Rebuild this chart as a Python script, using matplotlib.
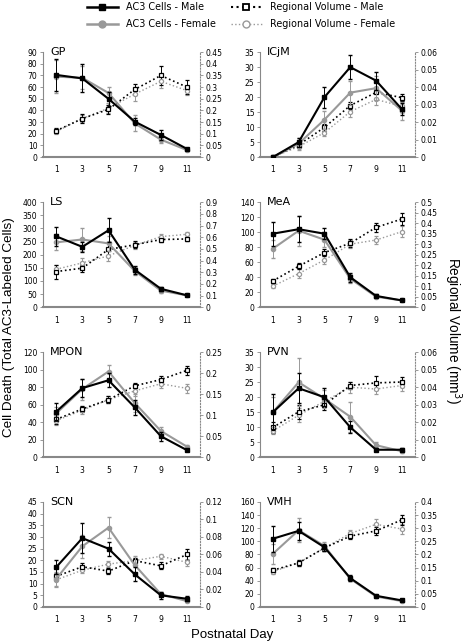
import matplotlib
matplotlib.use("Agg")
import matplotlib.pyplot as plt
from matplotlib.lines import Line2D

DPI = 100

days = [1, 3, 5, 7, 9, 11]
regions = ["GP", "ICjM", "LS", "MeA", "MPON", "PVN", "SCN", "VMH"]

# AC3 cells (left axis): male / female means and errors
cells_m = {
    "GP": [70.5, 67.5, 50, 30.5, 19, 7],
    "ICjM": [0, 5, 20, 30, 25.5, 16],
    "LS": [270, 230, 293, 143, 70, 45],
    "MeA": [98, 104, 98, 40, 15, 9],
    "MPON": [52, 79, 88, 57, 24, 8],
    "PVN": [15, 23, 20, 10, 2.5, 2.5],
    "SCN": [17, 29.5, 25, 14, 5, 3.5],
    "VMH": [104, 116, 91, 44, 17, 10],
}
cells_m_err = {
    "GP": [14, 12, 6, 3, 4, 1],
    "ICjM": [0, 1.5, 3.5, 4, 3, 2],
    "LS": [35, 20, 45, 15, 8, 3],
    "MeA": [16, 17, 7, 6, 2, 1],
    "MPON": [10, 10, 8, 9, 5, 1],
    "PVN": [6, 5, 3, 2, 0.5, 0.5],
    "SCN": [3, 6.5, 3, 3, 1.5, 1],
    "VMH": [20, 14, 5, 4, 2, 1],
}
cells_f = {
    "GP": [69, 68, 55, 29, 15, 6],
    "ICjM": [0, 4.5, 12.5, 21.5, 23, 15.5],
    "LS": [247, 258, 243, 138, 63, 45],
    "MeA": [78, 102, 90, 38, 14, 9],
    "MPON": [50, 78, 98, 62, 30, 12],
    "PVN": [15, 25, 19.5, 13.5, 4, 2],
    "SCN": [12, 26, 34, 18, 5.5, 2.5],
    "VMH": [81, 117, 93, 43, 16, 9],
}
cells_f_err = {
    "GP": [14, 10, 5, 7, 3, 1],
    "ICjM": [0, 2, 3, 4, 4, 3],
    "LS": [30, 45, 30, 15, 8, 3],
    "MeA": [12, 20, 10, 6, 2, 1],
    "MPON": [8, 12, 8, 10, 4, 2],
    "PVN": [5, 8, 3, 5, 1, 0.5],
    "SCN": [3, 5, 4.5, 4, 1, 0.5],
    "VMH": [15, 18, 6, 4, 2, 1],
}

# Regional volume (right axis, mm3)
vol_m = {
    "GP": [0.113, 0.165, 0.205, 0.29, 0.35, 0.30],
    "ICjM": [0, 0.007, 0.017, 0.0295, 0.037, 0.034],
    "LS": [0.305, 0.335, 0.495, 0.535, 0.58, 0.585],
    "MeA": [0.125, 0.195, 0.26, 0.305, 0.38, 0.42],
    "MPON": [0.09, 0.115, 0.137, 0.17, 0.185, 0.207],
    "PVN": [0.017, 0.026, 0.030, 0.041, 0.0425, 0.043],
    "SCN": [0.035, 0.046, 0.041, 0.053, 0.047, 0.06],
    "VMH": [0.14, 0.168, 0.225, 0.27, 0.29, 0.332],
}
vol_m_err = {
    "GP": [0.01, 0.02, 0.02, 0.025, 0.04, 0.03],
    "ICjM": [0, 0.001, 0.002, 0.002, 0.003, 0.002],
    "LS": [0.06, 0.03, 0.06, 0.03, 0.02, 0.02],
    "MeA": [0.01, 0.015, 0.015, 0.02, 0.02, 0.03],
    "MPON": [0.01, 0.008, 0.008, 0.006, 0.008, 0.01],
    "PVN": [0.003, 0.004, 0.003, 0.002, 0.004, 0.003],
    "SCN": [0.003, 0.004, 0.003, 0.003, 0.004, 0.006],
    "VMH": [0.01, 0.01, 0.01, 0.01, 0.015, 0.02],
}
vol_f = {
    "GP": [0.11, 0.165, 0.21, 0.27, 0.325, 0.285],
    "ICjM": [0, 0.006, 0.014, 0.026, 0.033, 0.029],
    "LS": [0.325, 0.38, 0.44, 0.53, 0.605, 0.625],
    "MeA": [0.10, 0.16, 0.225, 0.30, 0.32, 0.36],
    "MPON": [0.087, 0.112, 0.137, 0.158, 0.175, 0.164],
    "PVN": [0.015, 0.024, 0.032, 0.040, 0.039, 0.041],
    "SCN": [0.031, 0.042, 0.049, 0.053, 0.058, 0.051],
    "VMH": [0.135, 0.168, 0.225, 0.28, 0.315, 0.297],
}
vol_f_err = {
    "GP": [0.01, 0.015, 0.02, 0.03, 0.03, 0.02],
    "ICjM": [0, 0.001, 0.002, 0.003, 0.003, 0.003],
    "LS": [0.04, 0.04, 0.04, 0.03, 0.02, 0.02],
    "MeA": [0.01, 0.02, 0.02, 0.02, 0.02, 0.025],
    "MPON": [0.01, 0.01, 0.008, 0.012, 0.01, 0.01],
    "PVN": [0.002, 0.004, 0.003, 0.003, 0.003, 0.003],
    "SCN": [0.008, 0.003, 0.003, 0.003, 0.003, 0.004],
    "VMH": [0.01, 0.01, 0.01, 0.015, 0.02, 0.02],
}

# axis ranges: (left max, left step, right max, right step)
axis_ranges = {
    "GP": (90, 10, 0.45, 0.05),
    "ICjM": (35, 5, 0.06, 0.01),
    "LS": (400, 50, 0.9, 0.1),
    "MeA": (140, 20, 0.5, 0.05),
    "MPON": (120, 20, 0.25, 0.05),
    "PVN": (35, 5, 0.06, 0.01),
    "SCN": (45, 5, 0.12, 0.02),
    "VMH": (160, 20, 0.4, 0.05),
}

GRAY = "#999999"
AXGRAY = "#888888"


def fmt(v):
    s = ("%.2f" % v).rstrip("0").rstrip(".")
    return s if s else "0"


fig = plt.figure(figsize=(465 / DPI, 644 / DPI), dpi=DPI)
plt.rcParams["font.family"] = "DejaVu Sans"

lefts = [0.0925, 0.559]
widths = [0.338, 0.333]
bottoms = [0.756, 0.523, 0.290, 0.0575]
height = 0.163

for i, reg in enumerate(regions):
    r, c = divmod(i, 2)
    ax = fig.add_axes([lefts[c], bottoms[r], widths[c], height])
    ax2 = ax.twinx()
    lmax, lstep, rmax, rstep = axis_ranges[reg]

    # volumes (right axis)
    ax2.errorbar(days, vol_f[reg], yerr=vol_f_err[reg], color=GRAY, ls=":", lw=1.0,
                 marker="o", ms=3, mfc="white", mec=GRAY, mew=0.9,
                 ecolor=GRAY, elinewidth=0.7, capsize=1.2)
    ax2.errorbar(days, vol_m[reg], yerr=vol_m_err[reg], color="black", ls=":", lw=1.2,
                 marker="s", ms=3, mfc="white", mec="black", mew=0.9,
                 ecolor="black", elinewidth=0.7, capsize=1.2)
    # cells (left axis)
    ax.errorbar(days, cells_f[reg], yerr=cells_f_err[reg], color=GRAY, lw=1.5,
                marker="o", ms=3, ecolor=GRAY, elinewidth=0.7, capsize=1.2, zorder=3)
    ax.errorbar(days, cells_m[reg], yerr=cells_m_err[reg], color="black", lw=1.5,
                marker="s", ms=3, ecolor="black", elinewidth=0.7, capsize=1.2, zorder=4)
    ax.set_zorder(ax2.get_zorder() + 1)
    ax.patch.set_visible(False)

    ax.set_xlim(0, 12)
    ax.set_ylim(0, lmax)
    n = int(round(lmax / lstep))
    ax.set_yticks([k * lstep for k in range(n + 1)])
    ax2.set_ylim(0, rmax)
    m = int(round(rmax / rstep))
    rt = [k * rstep for k in range(m + 1)]
    ax2.set_yticks(rt)
    ax2.set_yticklabels([fmt(v) for v in rt])
    ax.set_xticks(days)

    for a in (ax, ax2):
        a.spines["top"].set_visible(False)
    ax.spines["right"].set_visible(False)
    ax2.spines["left"].set_visible(False)
    ax2.spines["bottom"].set_visible(False)
    ax2.spines["right"].set_linestyle(":")
    ax2.spines["right"].set_color(AXGRAY)
    ax.spines["left"].set_color(AXGRAY)
    ax.spines["left"].set_linewidth(0.8)
    ax.spines["bottom"].set_color(AXGRAY)
    ax.spines["bottom"].set_linewidth(1.5)

    ax.tick_params(axis="y", labelsize=5.5, length=2, width=0.6, color=AXGRAY, pad=2)
    ax.tick_params(axis="x", labelsize=5.5, length=0, pad=6)
    ax2.tick_params(axis="y", labelsize=5.5, length=2, width=0.6, color=AXGRAY, pad=2)

    ax.text(0.045, 0.975, reg, transform=ax.transAxes,
            fontsize=8, va="baseline", ha="left")

# legend
handles = [
    Line2D([], [], color="black", lw=1.8, marker="s", ms=5),
    Line2D([], [], color=GRAY, lw=1.8, marker="o", ms=5),
    Line2D([], [], color="black", ls=":", lw=1.5, marker="s", ms=5, mfc="white", mew=1.3),
    Line2D([], [], color=GRAY, ls=":", lw=1.0, marker="o", ms=5, mfc="white", mew=1.0),
]
labels = ["AC3 Cells - Male", "AC3 Cells - Female",
          "Regional Volume - Male", "Regional Volume - Female"]
fig.legend(handles, labels, loc="upper center", bbox_to_anchor=(0.518, 1.01), ncol=2,
           frameon=False, fontsize=6.9, handlelength=3.2, handletextpad=0.85,
           columnspacing=1.6, labelspacing=0.72)

fig.text(0.019, 0.492, "Cell Death (Total AC3-Labeled Cells)", rotation=90,
         ha="center", va="center", fontsize=9.7, family="Liberation Sans")
fig.text(0.974, 0.486, "Regional Volume (mm$^3$)", rotation=-90,
         ha="center", va="center", fontsize=9.8, family="Liberation Sans")
fig.text(0.499, 0.014, "Postnatal Day", ha="center", va="center", fontsize=9.5,
         family="Liberation Sans")

fig.savefig("out.png", dpi=DPI)
plt.close(fig)
